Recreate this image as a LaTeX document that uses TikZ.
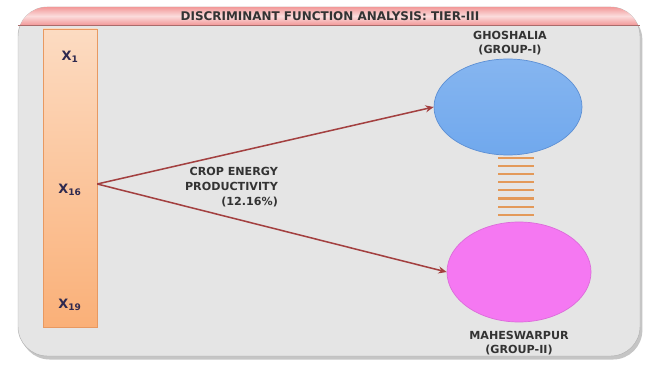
\documentclass[tikz,border=0pt]{standalone}
\usepackage{fontspec}
\setmainfont{DejaVu Sans}
\usepackage{xcolor}
\usepackage{tikz}
\definecolor{panelgray}{rgb}{0.90, 0.90, 0.90}
\definecolor{bandpink}{rgb}{0.95, 0.60, 0.60}
\definecolor{peach}{rgb}{0.99, 0.86, 0.76}
\definecolor{barorange}{rgb}{0.98, 0.69, 0.47}
\definecolor{barline}{rgb}{0.91, 0.60, 0.38}
\definecolor{arrowred}{rgb}{0.64, 0.25, 0.25}
\definecolor{skyblue}{rgb}{0.44, 0.66, 0.93}
\definecolor{skyline}{rgb}{0.36, 0.56, 0.83}
\definecolor{hotpink}{rgb}{0.96, 0.47, 0.95}
\definecolor{stackorange}{rgb}{0.89, 0.60, 0.35}
\definecolor{navytext}{rgb}{0.18, 0.16, 0.31}
\usetikzlibrary{shapes.geometric, shadows, arrows.meta}

\begin{document}
\begin{tikzpicture}[x=0.03cm, y=0.03cm,
	label text/.style = {font=\fontsize{9.5}{11.5}\selectfont\bfseries, text=black!80, align=center},
	xvar/.style = {font=\fontsize{11}{13}\selectfont\bfseries, text=navytext},
	group/.style = {draw, ellipse, line width=0.6pt},
	link/.style = {-{Stealth[length=7pt,width=6pt]}, line width=1.3pt, draw=arrowred}]
	\useasboundingbox (0,0) rectangle (646,366);
	
	% frame and title band
	\fill[white] (0,0) rectangle (646,366);
	\node[draw=gray!60, rounded corners=25, fill=panelgray, minimum width=622*0.03cm, minimum height=349*0.03cm,
	drop shadow={shadow xshift=2pt, shadow yshift=-3pt, opacity=0.45}] (frame) at (329,184.5) {};
	\begin{scope}
		\clip[rounded corners=25] (18,9) rectangle (640,359);
		\shade[top color=bandpink, bottom color=bandpink, middle color=bandpink!35] (18,341) rectangle (640,359);
	\end{scope}
	\draw[bandpink!70!black, line width=0.6pt] (frame.west |- 0,341) -- (frame.east |- 0,341);
	\node[font=\fontsize{10.2}{12}\selectfont\bfseries, text=black!80] (title) at (330,350) {DISCRIMINANT FUNCTION ANALYSIS: TIER-III};
	
	% variable bar
	\node[draw=barline, top color=peach, bottom color=barorange, minimum width=54*0.03cm, minimum height=298*0.03cm, inner sep=0pt] (bar) at (70,188) {};
	\node[xvar] (x1) at (70,309) {X\textsubscript{1}};
	\node[xvar] (x16) at (70,176) {X\textsubscript{16}};
	\node[xvar] (x19) at (70,61) {X\textsubscript{19}};
	\coordinate (start) at (bar.east |- 0,182);
	
	% groups
	\node[group, draw=skyline, top color=skyblue!85!white, bottom color=skyblue, minimum width=148*0.03cm, minimum height=96*0.03cm] (blue) at (508,259) {};
	\node[group, draw=hotpink!90!black, fill=hotpink, minimum width=144*0.03cm, minimum height=100*0.03cm] (pink) at (519,94) {};
	\node[label text] (ghosh) at (510,323) {GHOSHALIA\\(GROUP-I)};
	\node[label text] (mahesh) at (519,23) {MAHESWARPUR\\(GROUP-II)};
	
	\foreach \i in {0,...,7}
		\draw[stackorange, line width=1.8pt] (498,208-\i*8.1) -- (534,208-\i*8.1);
	
	\draw[link] (start) -- (blue.west);
	\draw[link] (start) -- (pink.west);
	\node[label text, align=right, anchor=east, font=\fontsize{9.5}{12.5}\selectfont\bfseries] (crop) at (282,179) {CROP ENERGY\\PRODUCTIVITY\\(12.16\%)};
	
\end{tikzpicture}
\end{document}
